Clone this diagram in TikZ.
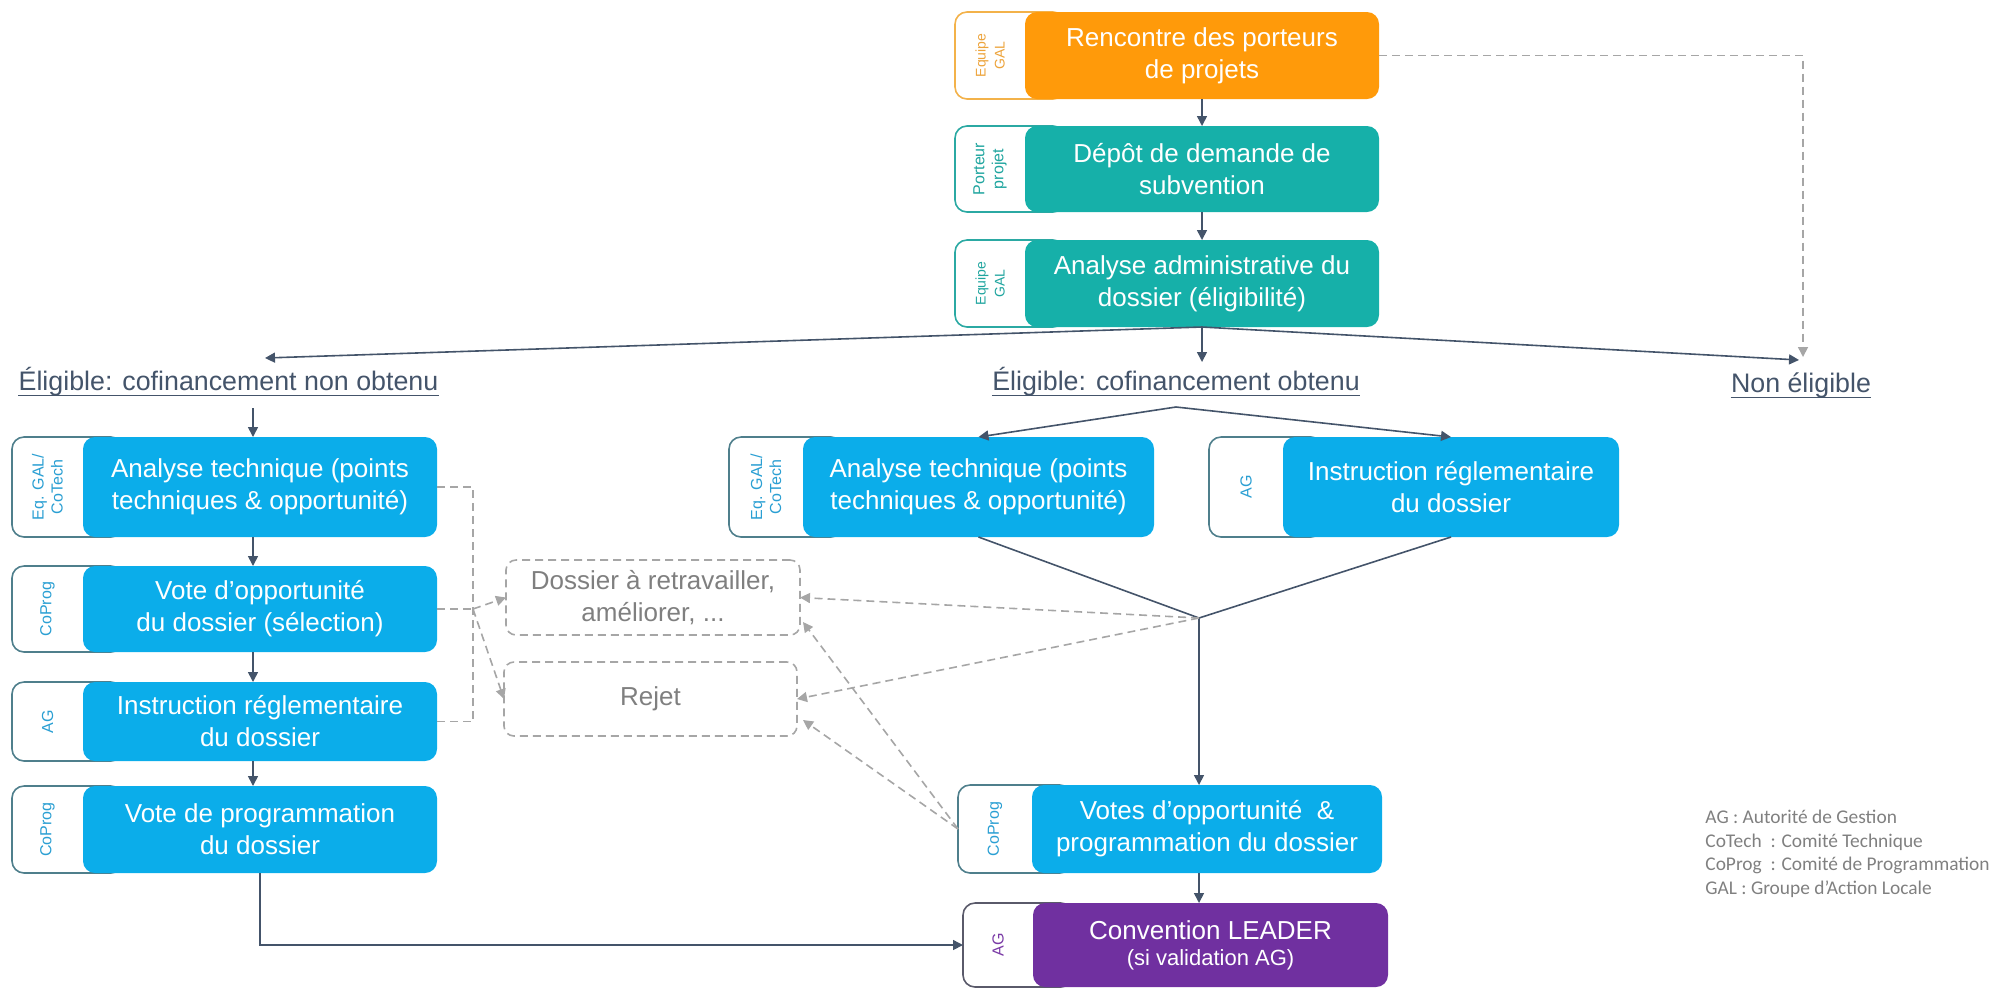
\documentclass[tikz,border=0pt]{standalone}
\usepackage{fontspec}
\setmainfont{Liberation Sans}
\newfontfamily\legendfont{Carlito}
\usetikzlibrary{arrows.meta,calc}
\definecolor{corange}{HTML}{FF9A0A}
\definecolor{corangeL}{HTML}{F3B24A}
\definecolor{corangeT}{HTML}{EDA33A}
\definecolor{cteal}{HTML}{16B0A9}
\definecolor{ctealL}{HTML}{2BA9A3}
\definecolor{ctealT}{HTML}{1FA59F}
\definecolor{cblue}{HTML}{0BADEA}
\definecolor{cblueL}{HTML}{4F7F8C}
\definecolor{cblueT}{HTML}{2A9FD3}
\definecolor{cpurple}{HTML}{7030A0}
\definecolor{cpurpleL}{HTML}{5A5A6A}
\definecolor{cpurpleT}{HTML}{7A3AA6}
\definecolor{cline}{HTML}{44546A}
\definecolor{cgray}{HTML}{A6A6A6}
\definecolor{cgrayT}{HTML}{7F7F7F}
\definecolor{clegend}{HTML}{808080}
\definecolor{clab}{HTML}{44546A}
\newcommand\smalltag{\fontsize{7}{9}\selectfont}
% #1 name, #2 tag left, #3 main left, #4 main right, #5 top, #6 bottom, #7 kind, #8 tag text, #9 main text
\newcommand\procbox[9]{%
  \pgfmathsetmacro\pbcy{(#5+#6)/2}%
  \pgfmathsetmacro\pbh{(#6-#5)*0.5}%
  \pgfmathsetmacro\pbtw{(#3+40-#2)*0.5}%
  \pgfmathsetmacro\pbtx{(#2+#3+40)/2}%
  \pgfmathsetmacro\pbmw{(#4-#3)*0.5}%
  \pgfmathsetmacro\pbmx{(#3+#4)/2}%
  \pgfmathsetmacro\pblx{(#2+#3)/2}%
  \node[tag#7, minimum width=\pbtw pt, minimum height=\pbh pt] (#1t) at (\pbtx,\pbcy) {};
  \node[main#7, minimum width=\pbmw pt, minimum height=\pbh pt] (#1) at (\pbmx,\pbcy) {#9};
  \node[tt#7] (#1l) at (\pblx,\pbcy) {#8};
}
\begin{document}
\begin{tikzpicture}[x=0.5pt,y=-0.5pt,
  pbase/.style={rounded corners=6pt, outer sep=0pt, inner sep=0pt},
  pmain/.style={pbase, text=white, align=center, font=\fontsize{13}{16}\selectfont},
  ptag/.style={pbase, fill=white, line width=0.8pt},
  ptt/.style={rotate=90, align=center, inner sep=0pt, font=\fontsize{8}{9.5}\selectfont},
  mainorange/.style={pmain, fill=corange}, tagorange/.style={ptag, draw=corangeL}, ttorange/.style={ptt, text=corangeT},
  mainteal/.style={pmain, fill=cteal}, tagteal/.style={ptag, draw=ctealL}, ttteal/.style={ptt, text=ctealT},
  mainblue/.style={pmain, fill=cblue}, tagblue/.style={ptag, draw=cblueL}, ttblue/.style={ptt, text=cblueT},
  mainpurple/.style={pmain, fill=cpurple}, tagpurple/.style={ptag, draw=cpurpleL}, ttpurple/.style={ptt, text=cpurpleT},
  arr/.style={draw=cline, line width=0.8pt, -{Triangle[length=5pt,width=5pt]}},
  pline/.style={draw=cline, line width=0.8pt},
  garr/.style={draw=cgray, line width=0.8pt, dash pattern=on 4pt off 2.5pt, -{Triangle[length=5pt,width=5pt]}},
  gline/.style={draw=cgray, line width=0.8pt, dash pattern=on 4pt off 2.5pt},
  dashbox/.style={draw=cgray, line width=0.8pt, dash pattern=on 4pt off 2.5pt, rounded corners=5pt, text=cgrayT, align=center, font=\fontsize{13}{16}\selectfont, inner sep=0pt, outer sep=0pt},
  lab/.style={text=clab, font=\fontsize{13.4}{16}\selectfont, inner sep=0pt},
]
\useasboundingbox (0,0) rectangle (1995,987);

% top column
\procbox{b1}{955}{1025}{1379}{12}{99}{orange}{\smalltag Equipe\\\smalltag GAL}{Rencontre des porteurs\\de projets}
\procbox{b2}{955}{1025}{1379}{126}{212}{teal}{Porteur\\projet}{Dépôt de demande de\\subvention}
\procbox{b3}{955}{1025}{1379}{240}{327}{teal}{\smalltag Equipe\\\smalltag GAL}{Analyse administrative du\\dossier (éligibilité)}

% left column
\procbox{l1}{12}{83}{437}{437}{537}{blue}{Eq. GAL/\\CoTech}{Analyse technique (points\\techniques \& opportunité)}
\procbox{l2}{12}{83}{437}{566}{652}{blue}{CoProg}{Vote d’opportunité\\du dossier (sélection)}
\procbox{l3}{12}{83}{437}{682}{761}{blue}{AG}{Instruction réglementaire\\du dossier}
\procbox{l4}{12}{83}{437}{786}{873}{blue}{CoProg}{Vote de programmation\\du dossier}

% middle column
\procbox{m1}{729}{803}{1154}{437}{537}{blue}{Eq. GAL/\\CoTech}{Analyse technique (points\\techniques \& opportunité)}
\procbox{m2}{1209}{1283}{1619}{437}{537}{blue}{AG}{Instruction réglementaire\\du dossier}
\procbox{m3}{958}{1032}{1382}{785}{873}{blue}{CoProg}{Votes d’opportunité~~\&\\programmation du dossier}
\procbox{conv}{963}{1033}{1388}{903}{987}{purple}{AG}{Convention LEADER\\[-3pt]{\fontsize{11}{13}\selectfont (si validation AG)}}

% dashed outcome boxes
\node[dashbox, minimum width=147pt, minimum height=37.5pt] (dos) at (653,597.5) {Dossier à retravailler,\\améliorer, ...};
\node[dashbox, minimum width=146.5pt, minimum height=37pt] (rej) at (650.5,699) {Rejet};

% labels
\node[lab, anchor=base] (el1) at (228.5,390) {Éligible: cofinancement non obtenu};
\node[lab, anchor=base] (el2) at (1176,390) {Éligible: cofinancement obtenu};
\node[lab, anchor=base] (nel) at (1801,392) {Non éligible};
\foreach \n in {el1,el2,nel}
  \draw[clab, line width=0.6pt] ([yshift=-2.6pt]\n.base west) -- ([yshift=-2.6pt]\n.base east);

% legend
\node[anchor=north west, inner sep=0pt, align=left, text=clegend,
      font=\legendfont\fontsize{9.7}{11.7}\selectfont] (legend) at (1705,810)
  {AG : Autorité de Gestion\\CoTech~ : Comité Technique\\CoProg~ : Comité de Programmation\\GAL : Groupe d’Action Locale};

% connectors: top
\draw[arr] (b1.south) -- (b2.north);
\draw[arr] (b2.south) -- (b3.north);
\coordinate (t1) at (265,358);
\coordinate (t2) at (1202,362);
\coordinate (t3) at (1799,360);
\coordinate (t3g) at (1803,357);
\draw[arr] (b3.south) -- (t1);
\draw[arr] (b3.south) -- (t2);
\draw[arr] (b3.south) -- (t3);
\draw[garr] (b1.east) -| (t3g);

% left column
\coordinate (s1) at (253,408);
\draw[arr] (s1) -- (s1 |- l1.north);
\draw[arr] (l1.south -| s1) -- (l2.north -| s1);
\draw[arr] (l2.south -| s1) -- (l3.north -| s1);
\draw[arr] (l3.south -| s1) -- (l4.north -| s1);
\draw[arr] (l4.south) |- (convt.west);

% middle column
\coordinate (apex) at (1176,407);
\draw[arr] (apex) -- (m1.north);
\draw[arr] (apex) -- (m2.north);
\coordinate (jn) at (1199,618);
\draw[pline] (m1.south) -- (jn) -- (m2.south);
\draw[arr] (jn) -- (jn |- m3.north);
\draw[arr] (m3.south -| jn) -- (conv.north -| jn);

% gray dashed feedback
\coordinate (j2) at (473,609);
\draw[gline] (l1.east) -- (l1.east -| j2) -- (l3.east -| j2) -- (l3.east);
\draw[gline] (l2.east) -- (j2);
\draw[garr] (j2) -- (dos.west);
\draw[garr] (j2) -- (rej.west);
\draw[garr] (jn) -- (dos.east);
\draw[garr] (jn) -- (rej.east);
\draw[garr] (m3t.west) -- ($(dos.south east)+(3,-13)$);
\draw[garr] (m3t.west) -- ($(rej.south east)+(6,-16)$);
\end{tikzpicture}
\end{document}
